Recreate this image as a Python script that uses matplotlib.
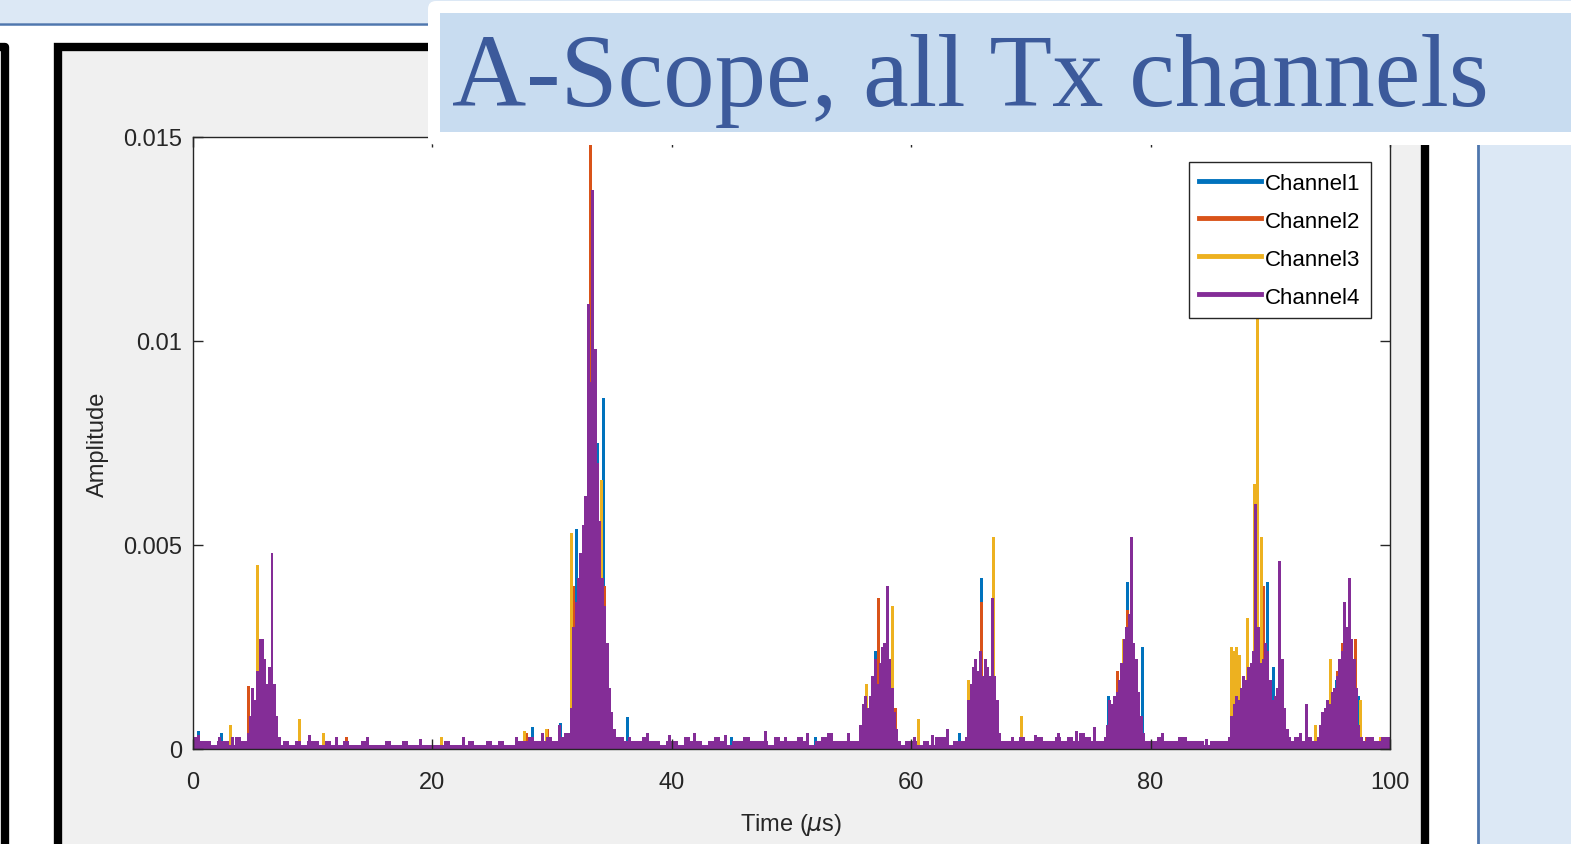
import numpy as np
import matplotlib
matplotlib.use("Agg")
import matplotlib.pyplot as plt
from matplotlib.patches import Rectangle, FancyBboxPatch
from matplotlib.lines import Line2D

W, H = 1571, 845
plt.rcParams['font.family'] = ['Liberation Sans', 'DejaVu Sans']

# MATLAB default colour order (purple a touch brighter, as in the screenshot)
colors = ['#0072BD', '#D95319', '#EDB120', '#842D97']
labels = ['Channel1', 'Channel2', 'Channel3', 'Channel4']

# channel 4 noise floor, 0.5 us bins, units of 1e-4
ch4_floor = [
    3, 2, 2, 1, 2, 2, 1, 3, 2, 3, 2, 4, 2, 3, 1, 2, 1, 2, 1, 2,
    2, 1, 2, 1, 1, 2, 1, 1, 2, 1, 1, 1, 2, 1, 1, 2, 1, 1, 1, 1,
    1, 1, 2, 1, 1, 1, 2, 1, 1, 2, 1, 2, 1, 1, 2, 2, 3, 2, 2, 3,
    2, 3, 4, 2, 2, 2, 2, 2, 2, 2, 2, 3, 2, 2, 2, 3, 2, 2, 1, 2,
    2, 1, 3, 2, 2, 1, 2, 3, 2, 1, 2, 2, 3, 2, 2, 2, 1, 3, 2, 2,
    2, 3, 2, 1, 2, 3, 4, 2, 2, 2, 2, 2, 2, 2, 2, 2, 3, 2, 1, 2,
    2, 1, 2, 1, 3, 3, 1, 2, 2, 3, 2, 2, 2, 2, 2, 2, 2, 2, 3, 2,
    2, 3, 2, 2, 3, 2, 3, 2, 4, 3, 2, 2, 2, 3, 2, 2, 2, 3, 2, 2,
    2, 3, 2, 2, 2, 3, 2, 2, 2, 1, 2, 2, 2, 2, 2, 2, 2, 2, 2, 2,
    2, 2, 2, 2, 3, 2, 3, 2, 3, 3, 2, 2, 2, 2, 2, 2, 3, 2, 2, 3,
]

# channel 4 samples (time us, amplitude 1e-4)
ch4_t = [
    0.5, 2.2, 3.3, 9.7, 12.0, 14.6, 19.0, 22.6, 27.0, 29.2, 30.6,
    4.4, 4.6, 4.8, 5.0, 5.2, 5.4, 5.6, 5.8, 6.0, 6.2, 6.4, 6.6, 6.8, 7.0, 7.2,
    31.4, 31.6, 31.8, 32.0, 32.2, 32.4, 32.6, 32.8, 33.0, 33.2, 33.4, 33.6,
    33.8, 34.0, 34.2, 34.4, 34.6, 34.8, 35.0, 35.2, 35.4,
    36.5, 38.0, 39.8, 41.9, 44.5, 46.1, 47.8, 49.5, 51.3, 53.2, 54.8,
    55.6, 55.8, 56.0, 56.2, 56.4, 56.6, 56.8, 57.0, 57.2, 57.4, 57.6, 57.8,
    58.0, 58.2, 58.4, 58.6, 58.8, 59.0,
    60.3, 61.8, 63.0,
    64.6, 64.8, 65.0, 65.2, 65.4, 65.6, 65.8, 66.0, 66.2, 66.4, 66.6, 66.8,
    67.0, 67.2, 67.4,
    68.5, 70.4, 72.3, 73.8, 75.3,
    76.2, 76.4, 76.6, 76.8, 77.0, 77.2, 77.4, 77.6, 77.8, 78.0, 78.2, 78.4,
    78.6, 78.8, 79.0, 79.2, 79.4,
    81.0, 82.4, 84.7,
    86.6, 86.8, 87.0, 87.2, 87.4, 87.6, 87.8, 88.0, 88.2, 88.4, 88.6, 88.8,
    89.0, 89.2, 89.4, 89.6, 89.8, 90.0, 90.2, 90.4, 90.6, 90.8, 91.0, 91.2,
    91.4, 91.6,
    92.5, 93.0,
    94.0, 94.2, 94.4, 94.6, 94.8, 95.0, 95.2, 95.4, 95.6, 95.8, 96.0, 96.2,
    96.4, 96.6, 96.8, 97.0, 97.2, 97.4, 97.6,
    98.5, 99.4,
]
ch4_a = [
    3.5, 3, 3, 3.5, 3, 3, 2.5, 3, 3, 4, 6,
    2, 4, 8, 15, 12, 19, 27, 27, 22, 16, 20, 48, 16, 8, 3,
    3, 10, 30, 36, 42, 48, 55, 62, 109, 90, 137, 98,
    70, 56, 42, 35, 26, 15, 9, 5, 3,
    3, 4, 3.5, 4, 3.5, 3, 4.5, 3, 4, 3.5, 4,
    2, 6, 11, 13, 10, 13, 18, 22, 16, 21, 25, 26,
    40, 22, 15, 9, 5, 2,
    3, 3.5, 5,
    3, 12, 16, 20, 22, 19, 24, 18, 22, 20, 18, 37,
    18, 12, 4,
    3, 3.5, 4, 4.5, 5.5,
    3, 6, 12, 11, 13, 14, 17, 21, 27, 30, 33, 52,
    26, 22, 14, 8, 4,
    4, 3, 2.5,
    3, 8, 11, 13, 12, 15, 18, 17, 20, 21, 24, 60,
    30, 21, 22, 26, 24, 17, 12, 13, 15, 46, 22, 10,
    5, 3,
    4, 11,
    3, 6, 9, 10, 12, 11, 14, 15, 18, 22, 24, 36,
    30, 42, 27, 22, 15, 6, 3,
    3, 3,
]

# channels 1-3: only spikes that show above channel 4
ch1_t = [0.5, 2.4, 28.4, 30.7, 32.0, 33.8, 34.3, 36.3, 45.0, 52.0, 57.0,
         64.0, 65.9, 76.5, 78.1, 79.3, 89.8, 90.3, 95.5, 97.4]
ch1_a = [4.4, 4, 5.4, 6.4, 54, 75, 86, 7.8, 3, 3, 24,
         4, 42, 13, 41, 25, 41, 20, 17, 13]

ch2_t = [4.6, 5.4, 12.8, 27.9, 29.6, 31.8, 33.2, 34.4, 57.3, 58.7, 65.9,
         77.2, 78.1, 88.8, 89.4, 95.6, 96.0, 97.1, 98.0]
ch2_a = [15.5, 28, 3, 4, 5, 40, 148, 40, 37, 10, 36,
         19, 34, 63, 40, 19, 26, 27, 3]

ch3_t = [3.1, 5.4, 8.9, 10.9, 20.8, 27.7, 29.5, 31.6, 34.1, 56.3, 58.4,
         60.6, 64.8, 66.9, 69.2, 77.7, 86.8, 87.0, 87.2, 87.4, 88.1, 88.7,
         88.9, 89.3, 93.8, 95.0, 97.5, 99.2]
ch3_a = [6, 45, 7.3, 4, 3, 4.5, 5, 53, 66, 16, 35,
         7.3, 17, 52, 8, 27, 25, 24, 25, 23, 32, 65,
         106, 52, 6, 22, 12, 3]

fig = plt.figure(figsize=(W / 100, H / 100), dpi=100)
fig.patch.set_facecolor('white')

# slide background layer (pixel coordinates)
bg = fig.add_axes([0, 0, 1, 1], zorder=-1)
bg.set_xlim(0, W)
bg.set_ylim(H, 0)
bg.axis('off')
bg.add_patch(Rectangle((0, 0), W, 24, color='#DCE8F5', lw=0))
bg.plot([0, 430], [25, 25], color='#4F77AE', lw=1.8)
bg.add_patch(Rectangle((1478, 140), W - 1478, H - 140, color='#DCE8F5', lw=0))
bg.plot([1478, 1478], [140, H], color='#4F77AE', lw=2)
# left partial frame
bg.plot([0, 5, 5], [48, 48, H], color='black', lw=6, solid_joinstyle='round')
# figure window frame
bg.add_patch(Rectangle((58, 48), 1367, H, facecolor='#F0F0F0',
                       edgecolor='black', lw=6))

# data axes
ax = fig.add_axes([193 / W, (H - 750) / H, (1390 - 193) / W, (750 - 138) / H])
ax.set_facecolor('white')

series = [(ch1_t, ch1_a), (ch2_t, ch2_a), (ch3_t, ch3_a)]
for (t, a), c in zip(series, colors[:3]):
    ax.bar(t, np.array(a) * 1e-4, width=0.25, color=c, linewidth=0)

floor_t = np.arange(len(ch4_floor)) * 0.5 + 0.25
ax.bar(floor_t, np.array(ch4_floor) * 1e-4, width=0.5, color=colors[3], linewidth=0)
ax.bar(ch4_t, np.array(ch4_a) * 1e-4, width=0.25, color=colors[3], linewidth=0)

ax.set_xlim(0, 100)
ax.set_ylim(0, 0.015)
ax.set_xticks([0, 20, 40, 60, 80, 100])
ax.set_yticks([0, 0.005, 0.01, 0.015], ['0', '0.005', '0.01', '0.015'])
ax.tick_params(direction='in', length=7, width=1, top=True, right=True,
               labelsize=17, colors='#262626', pad=8)
ax.tick_params(axis='x', pad=16)
for s in ax.spines.values():
    s.set_color('#262626')
    s.set_linewidth(1)
ax.set_xlabel('Time ($\\mu$s)', fontsize=17, color='#262626', labelpad=13)
ax.set_ylabel('Amplitude', fontsize=17, color='#262626', labelpad=10)

handles = [Line2D([], [], color=c, lw=3.5) for c in colors]
leg = ax.legend(handles, labels, loc='upper right', bbox_to_anchor=(0.984, 0.959),
                fontsize=16, frameon=True, fancybox=False, framealpha=1,
                edgecolor='#262626', borderaxespad=0, handlelength=2.8,
                handletextpad=0.2, labelspacing=0.72, borderpad=0.45,
                handleheight=0.9)
leg.get_frame().set_linewidth(1)

# title box on top
fg = fig.add_axes([0, 0, 1, 1], zorder=3)
fg.set_xlim(0, W)
fg.set_ylim(H, 0)
fg.axis('off')
fg.add_patch(FancyBboxPatch((428, 2), W, 144, boxstyle='round,pad=0,rounding_size=8',
                            facecolor='white', edgecolor='none'))
fg.add_patch(Rectangle((440, 14), W - 440, 119, color='#C8DCF0', lw=0))
fg.text(452, 106, 'A-Scope, all Tx channels', fontsize=74, color='#3C5A9B',
        family='Liberation Serif', va='baseline', ha='left')

fig.savefig('out.png', dpi=100)
